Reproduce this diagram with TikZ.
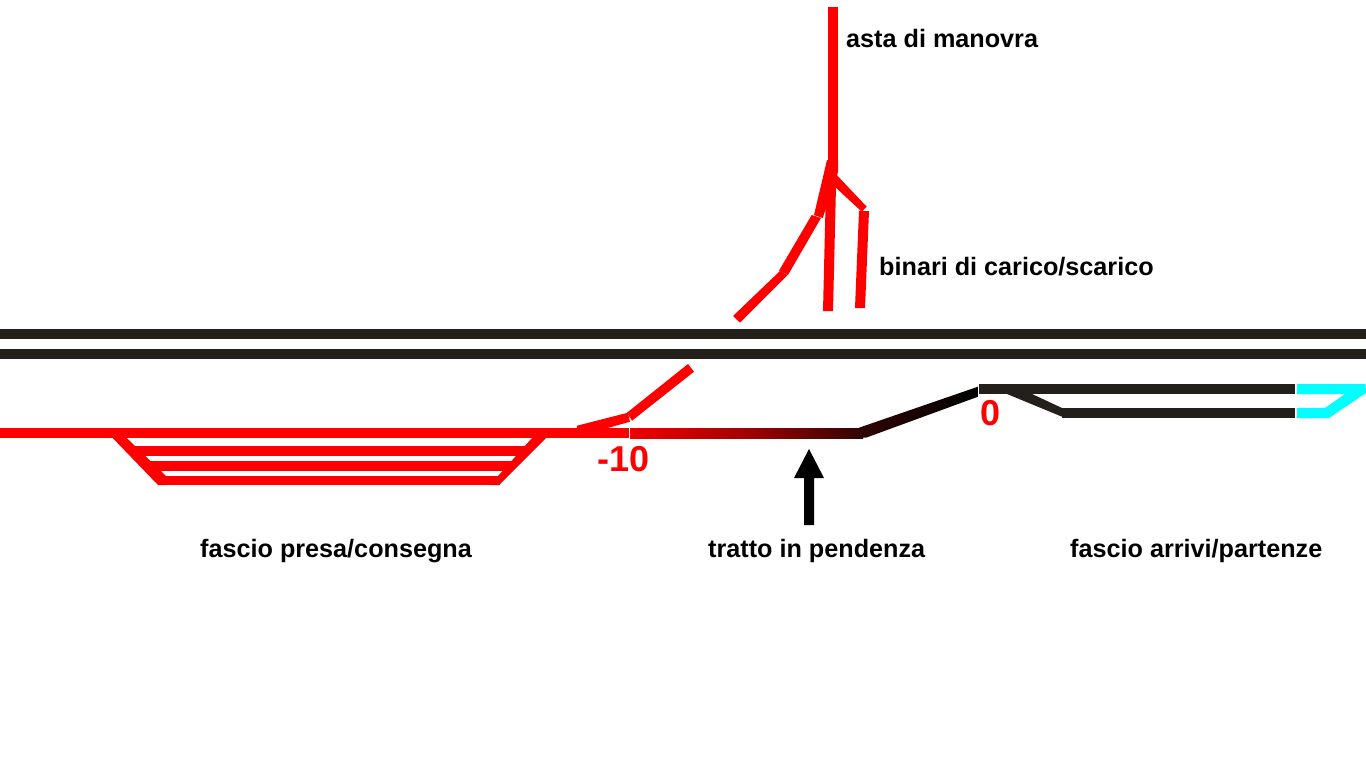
\documentclass[tikz,border=0pt]{standalone}
\usepackage{fontspec}
\setmainfont{Liberation Sans}
\definecolor{trackblack}{HTML}{231F1A}
\definecolor{trackred}{HTML}{FF0000}
\definecolor{trackcyan}{HTML}{00FFFF}
\definecolor{gradstart}{HTML}{F00000}
\definecolor{gradmid}{HTML}{A50000}
\definecolor{gradend}{HTML}{300404}
\tikzset{
  redtrack/.style={draw=trackred,line width=10pt},
  blacktrack/.style={draw=trackblack,line width=10pt},
  caption/.style={font=\bfseries\fontsize{25.2}{27}\selectfont,text=black,inner sep=0pt,anchor=base west},
  level/.style={font=\bfseries\fontsize{36}{38}\selectfont,text=trackred,inner sep=0pt,anchor=base}
}
\begin{document}
\begin{tikzpicture}[x=1pt,y=-1pt,line join=miter]
\useasboundingbox (0,0) rectangle (1366,768);
\fill[white] (0,0) rectangle (1366,768);
% main lines
\draw[blacktrack] (0,334) -- (1366,334);
\draw[blacktrack] (0,354) -- (1366,354);
% siding: presa/consegna
\draw[redtrack] (0,433) -- (629,433);
\draw[redtrack] (131,451) -- (527,451);
\draw[redtrack] (146,466) -- (512,466);
\fill[trackred] (158,476) rectangle (500,485);
\fill[trackred] (112.7,438) -- (126.7,438) -- (166,476) -- (166,485) -- (158,485) -- cycle;
\fill[trackred] (532,438) -- (546,438) -- (499,485) -- (490,485) -- cycle;
% spur
\fill[trackred] (577,425.7) -- (628,412.7) -- (630,421.7) -- (590,433) -- (577,433) -- cycle;
\fill[trackred] (688,364) -- (694,371.7) -- (632,420.7) -- (627,412.7) -- cycle;
% gradient section
\shade[left color=gradstart,right color=gradmid,draw=none] (630,428) rectangle (745.5,438);
\shade[left color=gradmid,right color=gradend,draw=none] (745,428) rectangle (863,438);
\shade[left color=gradend,right color=black,draw=none] (859,427.7) -- (978,386.7) -- (978,396.7) -- (866,437.7) -- (859,437.7) -- cycle;
% arrivi/partenze
\fill[trackblack] (979,384) rectangle (1295,394);
\fill[trackblack] (1062,408) rectangle (1295,418);
\fill[trackblack] (1007,394) -- (1032,394) -- (1062,408) -- (1062,416.7) -- cycle;
% cyan end
\fill[trackcyan] (1297,384) -- (1365.5,384) -- (1366,393) -- (1329,418) -- (1297,418) -- (1297,408) -- (1325,408) -- (1345,394) -- (1297,394) -- cycle;
% shunting neck
\draw[redtrack] (833,7) -- (833,172);
\fill[trackred] (827,160) -- (838,160) -- (838,172) -- (822.7,218) -- (814,215) -- cycle;
\fill[trackred] (811.7,215) -- (821,218) -- (788,275) -- (779,270.7) -- cycle;
\fill[trackred] (780,271) -- (787.5,275) -- (740,322.7) -- (733,316) -- cycle;
\fill[trackred] (826.5,165) -- (836.5,165) -- (833,311) -- (823,311) -- cycle;
\fill[trackred] (836.7,175) -- (866.7,206.7) -- (861.7,211.7) -- (833,185) -- cycle;
\fill[trackred] (859,211) -- (869,211) -- (865,308) -- (855,308) -- cycle;
% arrow
\fill[black] (804,525) -- (814,525) -- (814,478) -- (824,478) -- (809,449) -- (794,478) -- (804,478) -- cycle;
% labels
\node[caption] (asta) at (846,48) {asta di manovra};
\node[caption] (binari) at (879,275) {binari di carico/scarico};
\node[caption] (presa) at (200,557) {fascio presa/consegna};
\node[caption] (tratto) at (708,557) {tratto in pendenza};
\node[caption] (arrivi) at (1070,557) {fascio arrivi/partenze};
\node[level] (meno) at (624,471) {-10};
\node[level] (zero) at (991,425) {0};
\end{tikzpicture}
\end{document}
